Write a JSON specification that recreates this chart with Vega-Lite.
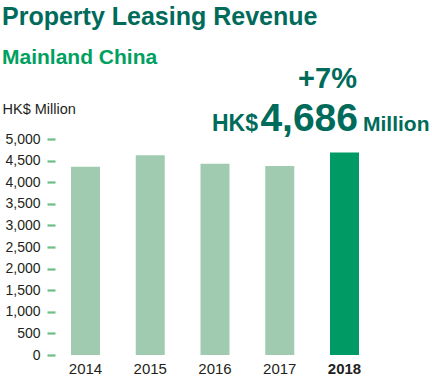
{
  "$schema": "https://vega.github.io/schema/vega-lite/v6.json",
  "autosize": "none",
  "width": 320,
  "height": 216,
  "padding": {"left": 55, "top": 139, "right": 57, "bottom": 25},
  "background": "white",
  "config": {"view": {"stroke": null}},
  "title": {
    "text": "Property Leasing Revenue",
    "subtitle": "Mainland China",
    "anchor": "start",
    "frame": "group",
    "dx": -53,
    "font": "Liberation Sans",
    "fontSize": 25,
    "fontWeight": "bold",
    "color": "#006b5a",
    "subtitleFont": "Liberation Sans",
    "subtitleFontSize": 21,
    "subtitleFontWeight": "bold",
    "subtitleColor": "#00a060",
    "subtitlePadding": 17,
    "offset": -3
  },
  "data": {
    "values": [
      {"year": "2014", "value": 4355},
      {"year": "2015", "value": 4625},
      {"year": "2016", "value": 4425},
      {"year": "2017", "value": 4375},
      {"year": "2018", "value": 4686, "change": "+7%", "prefix": "HK$", "unit": "Million"}
    ]
  },
  "encoding": {
    "x": {
      "field": "year",
      "type": "nominal",
      "scale": {"paddingInner": 0.552, "paddingOuter": 0.247},
      "axis": {
        "title": null,
        "labelAngle": 0,
        "ticks": false,
        "tickSize": 0,
        "domain": false,
        "labelFont": "Liberation Sans",
        "labelFontSize": 15,
        "labelColor": "#231f20",
        "labelPadding": 6,
        "labelFontWeight": {"condition": {"test": "datum.value == '2018'", "value": "bold"}, "value": "normal"}
      }
    },
    "y": {
      "field": "value",
      "type": "quantitative",
      "scale": {"domain": [0, 5000], "nice": false},
      "axis": {
        "title": "HK$ Million",
        "titleAngle": 0,
        "titleAlign": "left",
        "titleBaseline": "alphabetic",
        "titleX": -53,
        "titleY": -26,
        "titleFont": "Liberation Sans",
        "titleFontSize": 14.5,
        "titleFontWeight": "normal",
        "titleColor": "#231f20",
        "values": [0, 500, 1000, 1500, 2000, 2500, 3000, 3500, 4000, 4500, 5000],
        "format": ",d",
        "grid": false,
        "domain": false,
        "tickColor": "#6cbf86",
        "tickWidth": 2.2,
        "tickSize": 8,
        "labelPadding": 7,
        "labelFont": "Liberation Sans",
        "labelFontSize": 14,
        "labelColor": "#231f20"
      }
    }
  },
  "layer": [
    {
      "mark": {"type": "bar"},
      "encoding": {
        "color": {"condition": {"test": "datum.year == '2018'", "value": "#009b64"}, "value": "#a0cbb0"}
      }
    },
    {
      "transform": [{"filter": "datum.year == '2018'"}],
      "mark": {"type": "text", "align": "right", "baseline": "alphabetic", "dx": 13.5, "dy": -22, "font": "Liberation Sans", "fontSize": 39, "fontWeight": "bold", "color": "#006b5a"},
      "encoding": {"text": {"field": "value", "type": "quantitative", "format": ",d"}}
    },
    {
      "transform": [{"filter": "datum.year == '2018'"}],
      "mark": {"type": "text", "align": "right", "baseline": "alphabetic", "dx": -86.5, "dy": -22, "font": "Liberation Sans", "fontSize": 23, "fontWeight": "bold", "color": "#006b5a"},
      "encoding": {"text": {"field": "prefix"}}
    },
    {
      "transform": [{"filter": "datum.year == '2018'"}],
      "mark": {"type": "text", "align": "left", "baseline": "alphabetic", "dx": 18.5, "dy": -22, "font": "Liberation Sans", "fontSize": 21, "fontWeight": "bold", "color": "#006b5a"},
      "encoding": {"text": {"field": "unit"}}
    },
    {
      "transform": [{"filter": "datum.year == '2018'"}],
      "mark": {"type": "text", "align": "center", "baseline": "alphabetic", "dx": -17, "dy": -65, "font": "Liberation Sans", "fontSize": 29, "fontWeight": "bold", "color": "#006b5a"},
      "encoding": {"text": {"field": "change"}}
    }
  ]
}
